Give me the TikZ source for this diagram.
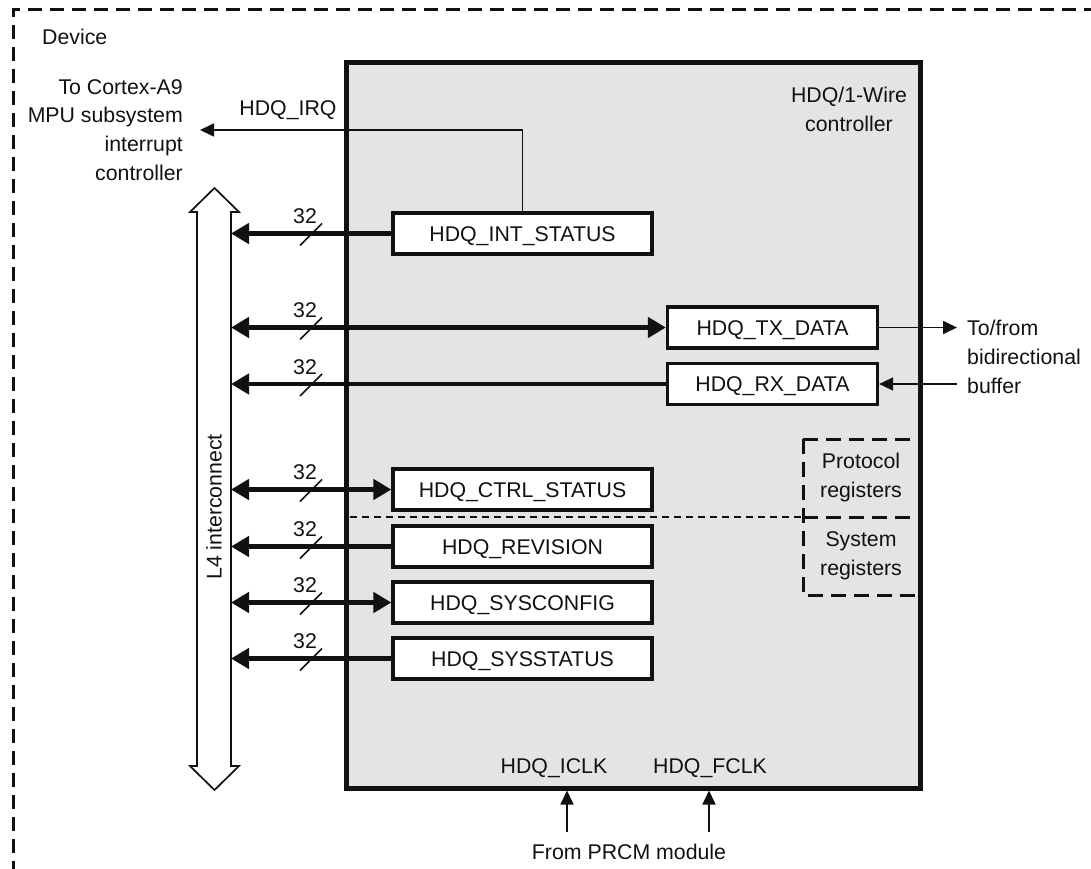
\documentclass[tikz,border=0pt]{standalone}
\usepackage{fontspec}
\setmainfont{Liberation Sans}
\usetikzlibrary{arrows.meta,calc}
\newcommand\dfs{\fontsize{21.3}{28.7}\selectfont}
\definecolor{ctrlgray}{HTML}{E4E4E4}
\definecolor{ink}{HTML}{111111}
\tikzset{
  every node/.style={font=\dfs, inner sep=0pt, text=ink},
  regbox/.style={draw=ink, line width=3.2pt, fill=white, minimum width=259pt, minimum height=41pt, text height=15pt, text depth=0pt},
  iobox/.style={draw=ink, line width=3.2pt, fill=white, minimum width=210pt, minimum height=41pt, text height=15pt, text depth=0pt},
  regdash/.style={draw=ink, line width=3pt, dash pattern=on 15pt off 8pt},
  bus/.style={draw=ink, line width=4.5pt},
  bustip/.style={-{Triangle[length=18pt,width=20pt]}},
  bus2tip/.style={{Triangle[length=18pt,width=20pt]}-{Triangle[length=18pt,width=20pt]}},
  sig/.style={draw=ink, line width=1.7pt},
  sigtip/.style={-{Triangle[length=14pt,width=13pt]}},
  slashmark/.style={draw=ink, line width=1.5pt},
}
\begin{document}
\begin{tikzpicture}[x=1pt,y=-1pt]
\useasboundingbox (0,0) rectangle (1091,869);
% device frame
\begin{scope}
\clip (0,0) rectangle (1091,869);
\draw[ink, line width=3pt, dash pattern=on 14pt off 8pt] (13,875) -- (13,10) -- (1100,10);
\end{scope}
\node[anchor=west] (device) at (42,37) {Device};

% controller
\node[draw=ink, line width=5pt, fill=ctrlgray, minimum width=574pt, minimum height=725pt] (ctrl) at (633,425.5) {};
\node[align=center] (ctrltitle) at (849,109.5) {HDQ/1-Wire\\controller};

% protocol / system dashed boxes
\coordinate (pnw) at (803,439);
\coordinate (pmid) at (803,517);
\coordinate (pse) at (919,595);
\draw[regdash] (pnw) rectangle (pse);
\draw[regdash] (pmid) -- (pmid -| pse);
\node[align=center] (proto) at (861,477.5) {Protocol\\registers};
\node[align=center] (sys) at (861,556) {System\\registers};
\draw[ink, line width=1.5pt, dash pattern=on 7pt off 5pt] (350,517) -- (pmid);

% registers
\node[regbox] (int) at (522.5,233.5) {HDQ\_INT\_STATUS};
\node[iobox] (tx) at (772.5,327.5) {HDQ\_TX\_DATA};
\node[iobox] (rx) at (772.5,384) {HDQ\_RX\_DATA};
\node[regbox] (cst) at (522.5,489.5) {HDQ\_CTRL\_STATUS};
\node[regbox] (rev) at (522.5,546.5) {HDQ\_REVISION};
\node[regbox] (scf) at (522.5,602.5) {HDQ\_SYSCONFIG};
\node[regbox] (sst) at (522.5,658.5) {HDQ\_SYSSTATUS};

% L4 interconnect big double arrow
\draw[ink, line width=1.7pt, fill=white]
  (197,212) -- (190,212) -- (214.5,188) -- (239,212) -- (231,212) -- (231,766)
  -- (239,766) -- (214.5,790) -- (190,766) -- (197,766) -- cycle;
\node[rotate=90] (l4) at (214,507) {L4 interconnect};
\coordinate (l4r) at (231,400);

% buses
\draw[bus, bustip] (int.west) -- (l4r |- int.west);
\draw[bus, bus2tip] (l4r |- tx.west) -- (tx.west);
\draw[bus, bustip] (rx.west) -- (l4r |- rx.west);
\draw[bus, bus2tip] (l4r |- cst.west) -- (cst.west);
\draw[bus, bustip] (rev.west) -- (l4r |- rev.west);
\draw[bus, bus2tip] (l4r |- scf.west) -- (scf.west);
\draw[bus, bustip] (sst.west) -- (l4r |- sst.west);

% 32-bit slash marks
\foreach \n/\yy in {a/233.5, b/327.5, c/384, d/489.5, e/546.5, f/602.5, g/658.5}{
  \coordinate (m\n) at (311,\yy);
  \draw[slashmark] ($(m\n)+(-11,12)$) -- ($(m\n)+(11,-10)$);
  \node (w\n) at ($(m\n)+(-6,-17)$) {32};
}

% IRQ
\coordinate (irqend) at (200,130);
\node (irqlbl) at (288,110) {HDQ\_IRQ};
\draw[sig, sigtip] (int.north) |- (irqend);
\node[align=right, anchor=east] (cortex) at (183,130) {To Cortex-A9\\MPU subsystem\\interrupt\\controller};

% TX/RX external
\coordinate (bufout) at (957,327.5);
\coordinate (bufin) at (957,384);
\draw[sig, sigtip] (tx.east) -- (bufout);
\draw[sig, sigtip] (bufin) -- (rx.east);
\node[align=left, anchor=west] (buf) at (967,357) {To/from\\bidirectional\\buffer};

% clocks
\node (iclk) at (554,768) {HDQ\_ICLK};
\node (fclk) at (710,768) {HDQ\_FCLK};
\coordinate (iclkfrom) at (567,832);
\coordinate (fclkfrom) at (709,832);
\draw[sig, sigtip] (iclkfrom) -- (iclkfrom |- ctrl.south);
\draw[sig, sigtip] (fclkfrom) -- (fclkfrom |- ctrl.south);
\node (prcm) at (629,852) {From PRCM module};
\end{tikzpicture}
\end{document}
